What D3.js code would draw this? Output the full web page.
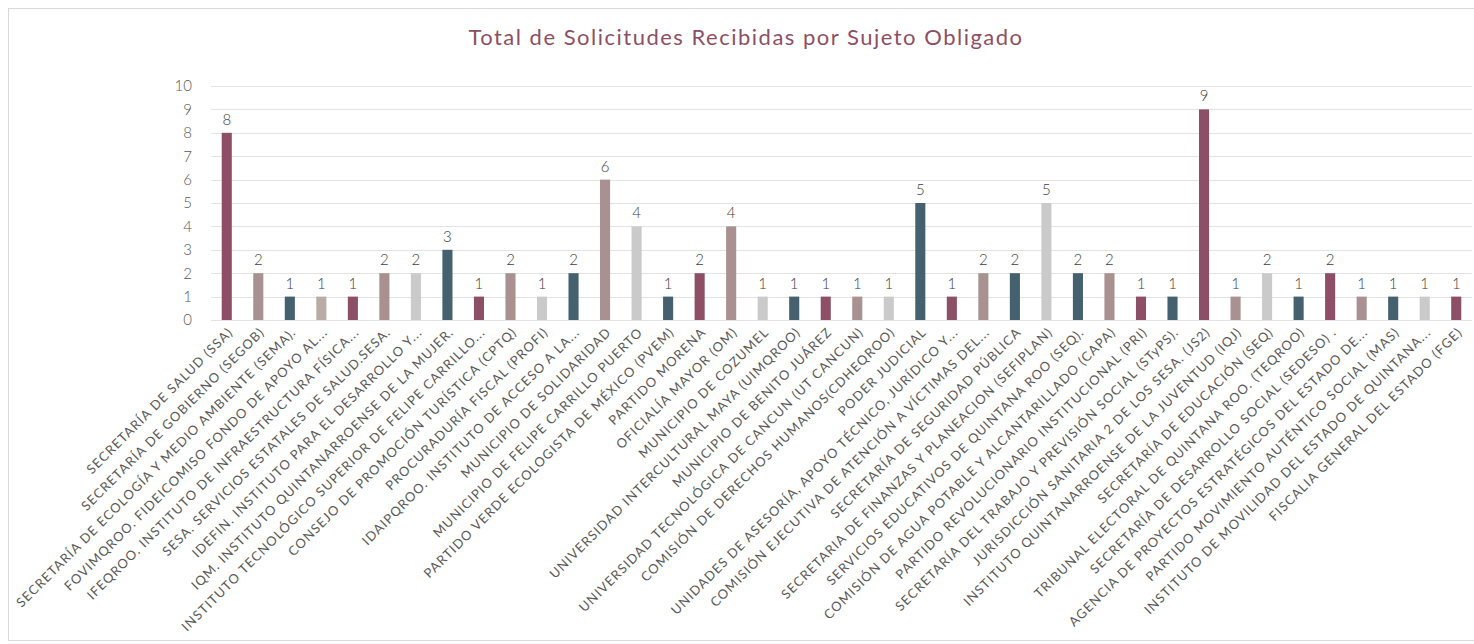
<!DOCTYPE html>
<html><head><meta charset="utf-8">
<script src="https://cdn.jsdelivr.net/npm/d3@7/dist/d3.min.js"></script>
<style>
html,body{margin:0;padding:0;background:#fff;}
svg{display:block;}
</style></head>
<body>
<svg id="c" width="1474" height="644"></svg>
<script>
const categories = [
"SECRETARÍA DE SALUD (SSA)",
"SECRETARÍA DE GOBIERNO (SEGOB)",
"SECRETARÍA DE ECOLOGÍA Y MEDIO AMBIENTE (SEMA).",
"FOVIMQROO. FIDEICOMISO FONDO DE APOYO AL...",
"IFEQROO. INSTITUTO DE INFRAESTRUCTURA FÍSICA...",
"SESA. SERVICIOS ESTATALES DE SALUD.SESA.",
"IDEFIN. INSTITUTO PARA EL DESARROLLO Y...",
"IQM. INSTITUTO QUINTANARROENSE DE LA MUJER.",
"INSTITUTO TECNOLÓGICO SUPERIOR DE FELIPE CARRILLO...",
"CONSEJO DE PROMOCIÓN TURÍSTICA (CPTQ)",
"PROCURADURÍA FISCAL (PROFI)",
"IDAIPQROO. INSTITUTO DE ACCESO  A LA...",
"MUNICIPIO DE SOLIDARIDAD",
"MUNICIPIO DE FELIPE CARRILLO PUERTO",
"PARTIDO VERDE ECOLOGISTA DE MÉXICO (PVEM)",
"PARTIDO MORENA",
"OFICIALÍA MAYOR (OM)",
"MUNICIPIO DE COZUMEL",
"UNIVERSIDAD INTERCULTURAL MAYA (UIMQROO)",
"MUNICIPIO DE BENITO  JUÁREZ",
"UNIVERSIDAD TECNOLÓGICA DE CANCUN (UT CANCUN)",
"COMISIÓN DE DERECHOS HUMANOS(CDHEQROO)",
"PODER JUDICIAL",
"UNIDADES DE ASESORÍA, APOYO TÉCNICO, JURÍDICO Y...",
"COMISIÓN EJECUTIVA DE ATENCIÓN A VÍCTIMAS DEL...",
"SECRETARÍA DE SEGURIDAD PÚBLICA",
"SECRETARIA DE FINANZAS Y PLANEACION (SEFIPLAN)",
"SERVICIOS EDUCATIVOS DE QUINTANA ROO (SEQ).",
"COMISIÓN DE AGUA POTABLE Y ALCANTARILLADO (CAPA)",
"PARTIDO REVOLUCIONARIO INSTITUCIONAL (PRI)",
"SECRETARÍA DEL TRABAJO Y PREVISIÓN SOCIAL  (STyPS).",
"JURISDICCIÓN SANITARIA 2 DE LOS SESA. (JS2)",
"INSTITUTO QUINTANARROENSE DE LA JUVENTUD (IQJ)",
"SECRETARÍA DE EDUCACIÓN (SEQ)",
"TRIBUNAL  ELECTORAL DE QUINTANA ROO. (TEQROO)",
"SECRETARÍA DE DESARROLLO SOCIAL (SEDESO) .",
"AGENCIA DE PROYECTOS ESTRATÉGICOS DEL ESTADO DE...",
"PARTIDO MOVIMIENTO AUTÉNTICO SOCIAL (MAS)",
"INSTITUTO DE MOVILIDAD DEL ESTADO DE QUINTANA...",
"FISCALIA GENERAL DEL ESTADO (FGE)"
];
const values = [8,2,1,1,1,2,2,3,1,2,1,2,6,4,1,2,4,1,1,1,1,1,5,1,2,2,5,2,2,1,1,9,1,2,1,2,1,1,1,1];
const colorKeys = ["m","v","s","t","m","v","g","s","m","v","g","s","v","g","s","m","v","g","s","m","v","g","s","m","v","s","g","s","v","m","s","m","v","g","s","m","v","s","g","m"];
const palette = {m:"#8d4f65", v:"#a89190", s:"#45606f", t:"#b8aca5", g:"#cacaca"};
const yTicks = [0,1,2,3,4,5,6,7,8,9,10];
const title = "Total de Solicitudes Recibidas por Sujeto Obligado";

const svg = d3.select("#c");
const font = "Lato, 'Open Sans', sans-serif";

// chart border
svg.append("rect").attr("x",8.5).attr("y",8.5).attr("width",1474).attr("height",632)
  .attr("fill","#fff").attr("stroke","#d9d9d9").attr("stroke-width",1);

const x = d3.scaleBand().domain(categories).range([211,1472]).paddingInner(0.68).paddingOuter(0.34);
const y = d3.scaleLinear().domain([0,10]).range([320,86]);

// gridlines
svg.append("g").selectAll("line").data(yTicks).join("line")
  .attr("x1",211).attr("x2",1472)
  .attr("y1",d=>Math.round(y(d))+0.5).attr("y2",d=>Math.round(y(d))+0.5)
  .attr("stroke","#e3e3e3").attr("stroke-width",1);

// y axis labels
const yAxis = d3.axisLeft(y).tickValues(yTicks).tickSize(0).tickPadding(0);
const gy = svg.append("g").attr("transform","translate(192,0)").call(yAxis);
gy.select(".domain").remove();
gy.selectAll("text").attr("font-family",font).attr("font-size",15).attr("fill","#595959").attr("font-weight",300);

// bars
svg.append("g").selectAll("rect").data(values).join("rect")
  .attr("x",(d,i)=>x(categories[i]))
  .attr("width",x.bandwidth())
  .attr("y",d=>y(d))
  .attr("height",d=>y(0)-y(d))
  .attr("fill",(d,i)=>palette[colorKeys[i]]);

// value labels
svg.append("g").selectAll("text").data(values).join("text")
  .attr("x",(d,i)=>x(categories[i])+x.bandwidth()/2)
  .attr("y",d=>y(d)-8)
  .attr("text-anchor","middle")
  .attr("font-family",font).attr("font-size",15).attr("font-weight",300).attr("fill","#404040")
  .text(d=>d);

// x axis labels
const xAxis = d3.axisBottom(x).tickSize(0).tickPadding(0);
const gx = svg.append("g").attr("transform","translate(0,320)").call(xAxis);
gx.select(".domain").remove();
gx.selectAll("text")
  .attr("font-family",font).attr("font-size",13).attr("fill","#595959")
  .attr("letter-spacing","1.1px")
  .attr("text-anchor","end")
  .attr("dy",0)
  .attr("y",0)
  .attr("transform","translate(7,13) rotate(-45)");

// title
svg.append("text").attr("x",746).attr("y",45).attr("text-anchor","middle")
  .attr("font-family",font).attr("font-size",22).attr("fill","#8d4f65")
  .attr("letter-spacing","1.5px")
  .text(title);
</script>
</body></html>
